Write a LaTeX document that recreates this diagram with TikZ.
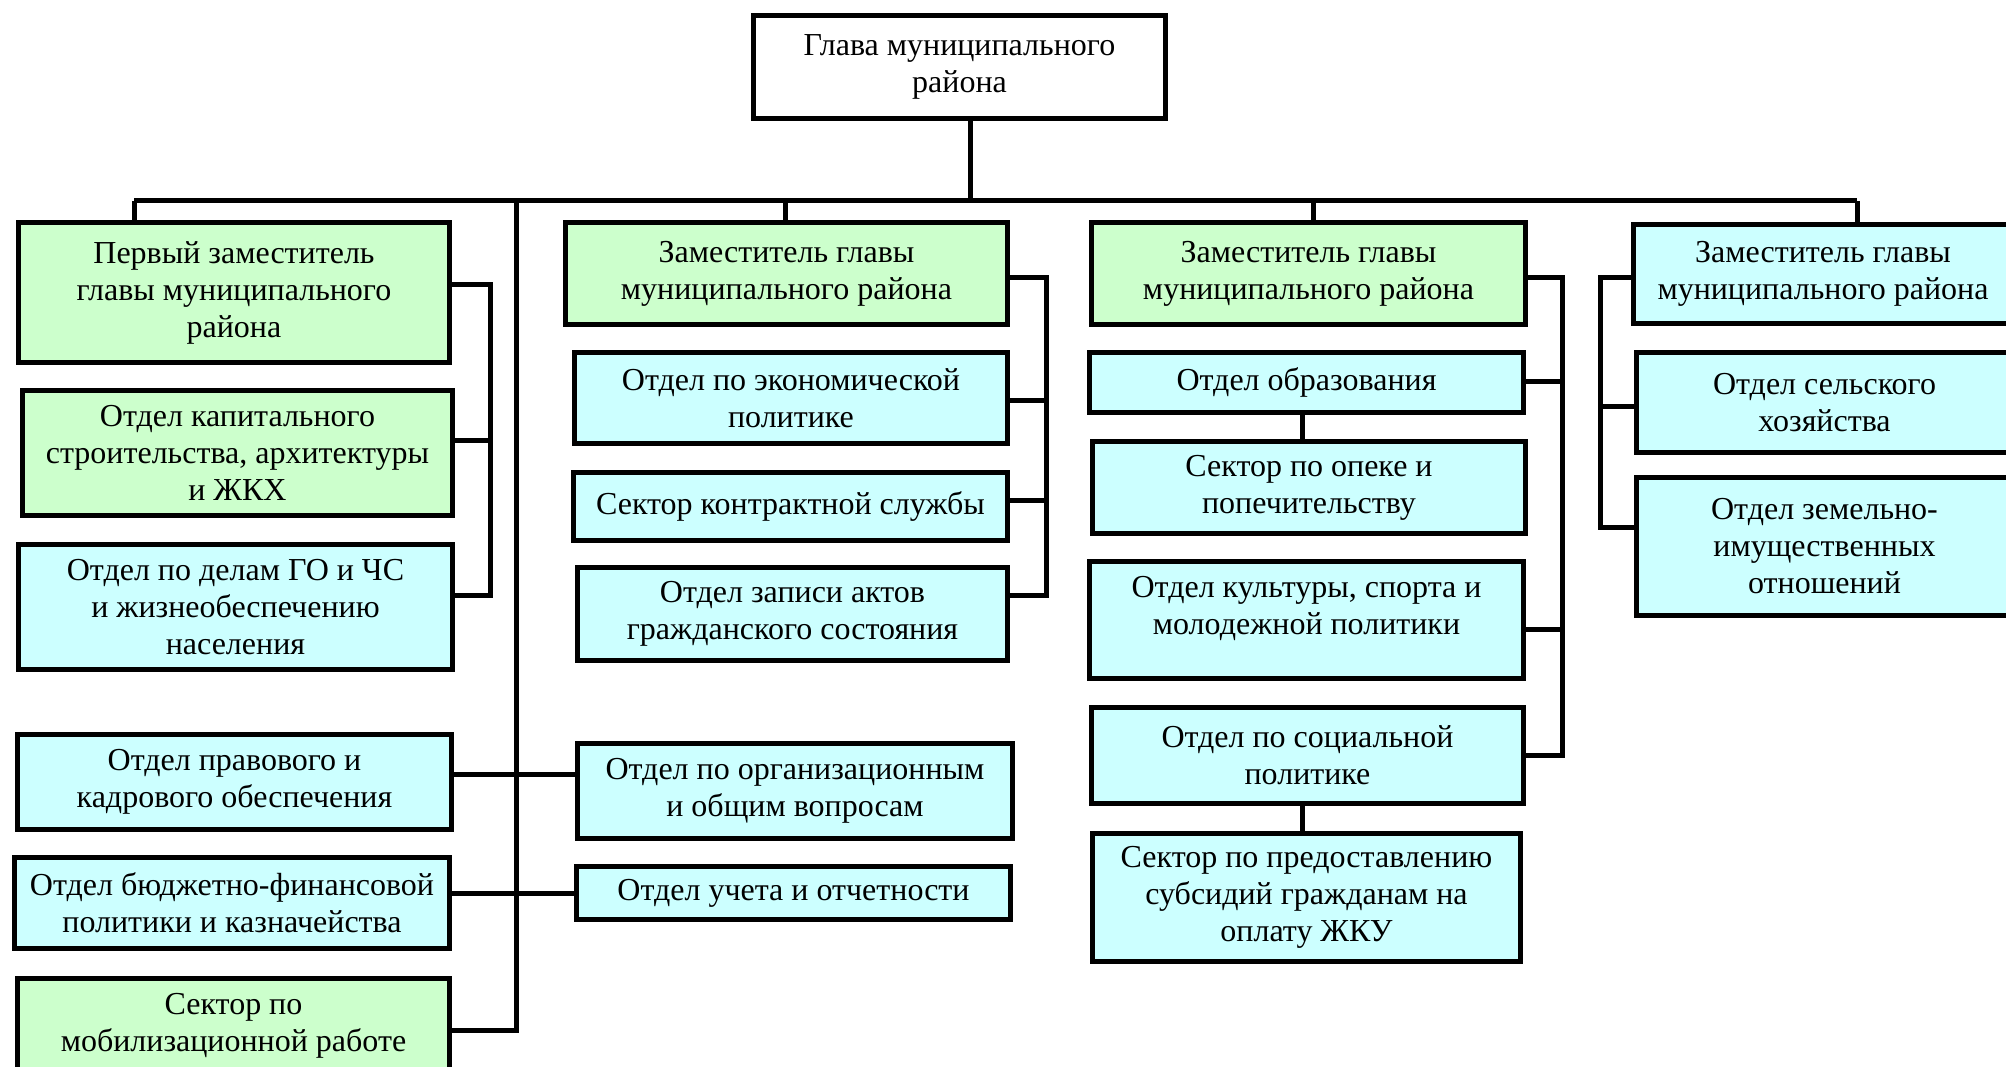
\documentclass[tikz,border=0pt]{standalone}
\usepackage{fontspec}
\setmainfont{Liberation Serif}
\definecolor{grn}{HTML}{CCFFCC}
\definecolor{cyn}{HTML}{CCFFFF}
\tikzset{
  box/.style={draw=black, line width=5pt, rectangle, inner sep=0pt, outer sep=0pt,
    align=center, text=black, font=\fontsize{32}{37}\selectfont},
  conn/.style={draw=black, line width=5pt, line join=miter}
}
\newcommand\obox[7]{%
  \node[box, fill=#6, minimum width={(#4)-(#2)-5}, minimum height={(#5)-(#3)-5}]
    (#1) at ({((#2)+(#4))/2},{((#3)+(#5))/2}) {#7};}
\begin{document}
\begin{tikzpicture}[x=1pt,y=-1pt]
\useasboundingbox (0,0) rectangle (2006,1067);
\clip (0,0) rectangle (2006,1067);
\fill[white] (0,0) rectangle (2006,1067);

% top
\obox{T}{751}{13}{1168}{121}{white}{Глава муниципального\\района}

% column B
\obox{B1}{16}{220}{452}{365}{grn}{Первый заместитель\\главы муниципального\\района}
\obox{B2}{20}{388}{455}{518}{grn}{Отдел капитального\\строительства, архитектуры\\и ЖКХ}
\obox{B3}{16}{542}{455}{672}{cyn}{Отдел по делам ГО и ЧС\\и жизнеобеспечению\\населения}
\obox{B4}{15}{732}{454}{832}{cyn}{Отдел правового и\\кадрового обеспечения}
\obox{B5}{12}{855}{452}{951}{cyn}{Отдел бюджетно-финансовой\\политики и казначейства}
\obox{B6}{15}{976}{452}{1076}{grn}{Сектор по\\мобилизационной работе}

% column C
\obox{C1}{563}{220}{1010}{327}{grn}{Заместитель главы\\муниципального района}
\obox{C2}{572}{350}{1010}{446}{cyn}{Отдел по экономической\\политике}
\obox{C3}{571}{470}{1010}{543}{cyn}{Сектор контрактной службы}
\obox{C4}{575}{565}{1010}{663}{cyn}{Отдел записи актов\\гражданского состояния}
\obox{C5}{575}{741}{1015}{841}{cyn}{Отдел по организационным\\и общим вопросам}
\obox{C6}{574}{864}{1013}{922}{cyn}{Отдел учета и отчетности}

% column D
\obox{D1}{1089}{220}{1528}{327}{grn}{Заместитель главы\\муниципального района}
\obox{D2}{1087}{350}{1526}{415}{cyn}{Отдел образования}
\obox{D3}{1090}{439}{1528}{536}{cyn}{Сектор по опеке и\\попечительству}
\obox{D4}{1087}{559}{1526}{681}{cyn}{Отдел культуры, спорта и\\молодежной политики\\[-8pt]\mbox{}}
\obox{D5}{1089}{705}{1526}{806}{cyn}{Отдел по социальной\\политике}
\obox{D6}{1090}{831}{1523}{964}{cyn}{Сектор по предоставлению\\субсидий гражданам на\\оплату ЖКУ}

% column E
\obox{E1}{1631}{222}{2015}{326}{cyn}{Заместитель главы\\муниципального района}
\obox{E2}{1634}{350}{2015}{455}{cyn}{Отдел сельского\\хозяйства}
\obox{E3}{1634}{475}{2015}{618}{cyn}{Отдел земельно-\\имущественных\\отношений}

% connector points
\coordinate (busC) at (970,201);
\coordinate (busL) at (134,201);
\coordinate (busR) at (1857,201);
\coordinate (dC) at (785,201);
\coordinate (dD) at (1313,201);
\coordinate (lsT) at (516,201);
\coordinate (lsB) at (516,1030);
\coordinate (bT) at (490,285);
\coordinate (bB) at (490,595);
\coordinate (cT) at (1046,278);
\coordinate (cB) at (1046,595);
\coordinate (dT) at (1562,278);
\coordinate (dB) at (1562,755);
\coordinate (eT) at (1600,278);
\coordinate (eB) at (1600,527);

% connectors
\draw[conn] (T.south -| busC) -- (busC);
\draw[conn] (busL) -- (busR);
\draw[conn] (busL) -- (B1.north -| busL);
\draw[conn] (dC) -- (C1.north -| dC);
\draw[conn] (dD) -- (D1.north -| dD);
\draw[conn] (busR) -- (E1.north -| busR);

\draw[conn] (lsT) -- (lsB) -- (B6.east |- lsB);
\draw[conn] (B4.east |- 0,774) -- (C5.west |- 0,774);
\draw[conn] (B5.east |- C6.west) -- (C6.west);

\draw[conn] (B1.east |- bT) -- (bT) -- (bB) -- (B3.east |- bB);
\draw[conn] (B2.east |- 0,440) -- (bT |- 0,440);

\draw[conn] (C1.east |- cT) -- (cT) -- (cB) -- (C4.east |- cB);
\draw[conn] (C2.east |- 0,400) -- (cT |- 0,400);
\draw[conn] (C3.east |- 0,500) -- (cT |- 0,500);

\draw[conn] (D1.east |- dT) -- (dT) -- (dB) -- (D5.east |- dB);
\draw[conn] (D2.east |- 0,381) -- (dT |- 0,381);
\draw[conn] (D4.east |- 0,629) -- (dT |- 0,629);
\draw[conn] (D2.south -| 1302,0) -- (D3.north -| 1302,0);
\draw[conn] (D5.south -| 1302,0) -- (D6.north -| 1302,0);

\draw[conn] (E1.west |- eT) -- (eT) -- (eB) -- (E3.west |- eB);
\draw[conn] (E2.west |- 0,406) -- (eT |- 0,406);
\end{tikzpicture}
\end{document}
